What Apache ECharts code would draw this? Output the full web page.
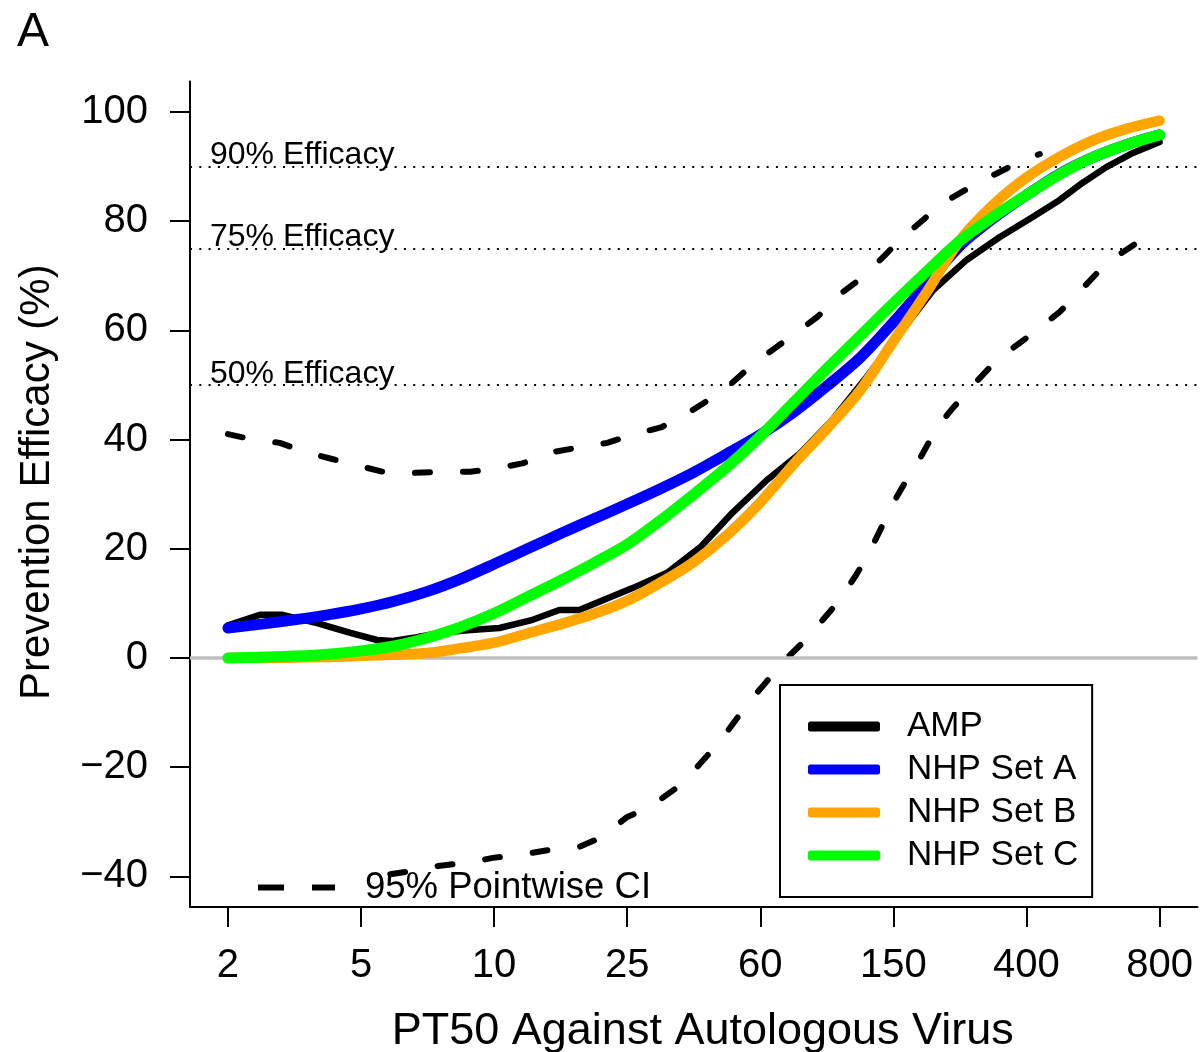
<!DOCTYPE html>
<html><head><meta charset="utf-8">
<script src="https://cdn.jsdelivr.net/npm/echarts@6/dist/echarts.min.js"></script>
<style>html,body{margin:0;padding:0;background:#fff}#c{width:1204px;height:1052px}</style>
</head><body><div id="c"></div>
<script>
// x positions are in axis units: tick k (0..7) carries label xTickLabels[k]
const xTickLabels = ['2','5','10','25','60','150','400','800'];
const xTickPos = [0,1,2,3,4,5,6,7];
const yTicks = [-40,-20,0,20,40,60,80,100];
const efficacyLevels = [90,75,50];
const efficacyLabels = ['90% Efficacy','75% Efficacy','50% Efficacy'];

const nhpX = [0,0.25,0.5,0.75,1,1.25,1.5,1.75,2,2.25,2.5,2.75,3,3.25,3.5,3.75,4,4.25,4.5,4.75,5,5.25,5.5,5.75,6,6.25,6.5,6.75,7];
const nhpA = [5.5,6.2,7.0,7.9,9.0,10.4,12.2,14.5,17.2,20.0,22.8,25.5,28.2,31.0,34.0,37.4,40.9,45.0,49.8,55.0,61.5,68.5,75.5,80.5,84.8,88.7,91.7,94.0,95.8];
const nhpB = [0,0,0.1,0.2,0.4,0.6,0.9,1.8,2.8,4.5,6.2,8.1,10.5,13.8,17.6,22.5,28.5,35.5,42.0,49.0,58.0,67.0,76.5,83.0,88.0,91.8,94.8,96.9,98.4];
const nhpC = [0,0.15,0.35,0.7,1.3,2.2,3.7,5.7,8.2,11.2,14.2,17.4,20.8,25.2,30.0,35.0,40.6,46.8,53.0,59.0,65.0,70.8,76.4,80.8,84.8,88.6,91.7,94.0,95.8];

const ampX = [0,0.24,0.41,0.67,0.92,1.12,1.24,1.42,1.59,1.80,2.04,2.29,2.49,2.64,2.79,3.04,3.30,3.55,3.79,4.05,4.30,4.54,4.80,5.05,5.30,5.55,5.80,6.05,6.25,6.42,6.60,6.80,7.0];
const ampY = [6.0,7.9,7.9,6.4,4.6,3.3,3.1,3.8,4.6,5.1,5.5,7.0,8.8,8.8,10.3,12.8,15.6,20.3,26.6,32.6,37.5,43.6,51.5,59.5,67.4,72.9,77.1,80.8,83.9,87.0,89.9,92.5,94.5];

const ciUpperX = [0,0.17,0.39,0.56,0.79,0.98,1.20,1.39,1.61,1.82,2.04,2.22,2.44,2.62,2.85,3.03,3.26,3.42,3.62,3.77,3.94,4.09,4.30,4.43,4.62,4.75,4.93,5.05,5.24,5.37,5.59,5.74,5.96,6.10];
const ciUpperY = [41.0,40.1,39.4,37.9,36.4,35.2,33.9,33.9,34.1,34.1,34.8,35.7,37.7,38.5,39.4,40.8,42.3,44.3,47.4,50.0,53.7,56.4,60.1,62.5,67.0,69.4,73.6,76.6,80.6,83.3,86.4,88.3,91.0,92.3];
const ciLowerX = [1.22,1.43,1.58,1.82,1.99,2.23,2.40,2.64,2.81,3.00,3.17,3.37,3.49,3.66,3.76,3.91,4.02,4.18,4.31,4.47,4.58,4.72,4.81,4.92,4.99,5.12,5.21,5.33,5.44,5.60,5.72,5.91,6.05,6.25,6.36,6.53,6.66,6.87,7.0];
const ciLowerY = [-39.6,-38.8,-38.1,-37.4,-36.6,-35.9,-35.2,-34.6,-32.8,-29.1,-27.3,-23.8,-20.9,-16.3,-13.2,-8.2,-5.1,-0.5,2.6,7.0,10.1,15.2,18.9,24.4,28.0,33.5,37.0,42.3,45.6,50.0,53.1,57.0,59.5,63.4,66.1,70.5,73.3,76.7,78.9];

const FONT = '"Liberation Sans", Arial, Helvetica, sans-serif';
const zip = (xs, ys) => xs.map((x, i) => [x, ys[i]]);

const chart = echarts.init(document.getElementById('c'), null, {renderer: 'canvas'});

const efficacyMarks = efficacyLevels.map((v, i) => ({
  yAxis: v,
  lineStyle: {color: '#000', width: 2, type: [2, 7.3]},
  label: {show: true, position: 'insideStartTop', formatter: efficacyLabels[i],
          fontSize: 32, fontFamily: FONT, color: '#000', distance: [20, -5]}
}));
const zeroMark = {yAxis: 0, lineStyle: {color: '#bebebe', width: 3.5, type: 'solid'}, label: {show: false}};

const ciStyle = {color: '#000', width: 6, type: [15, 33], cap: 'round', join: 'round'};

chart.setOption({
  animation: false,
  backgroundColor: '#fff',
  textStyle: {fontFamily: FONT},
  grid: {left: 190, right: 6.5, top: 81.4, bottom: 145, containLabel: false, outerBoundsMode: 'none'},
  graphic: [{type: 'text', left: 17, top: 9, style: {text: 'A', fontSize: 48, fontFamily: FONT, fill: '#000'}}],
  xAxis: {
    type: 'value', min: -0.285, max: 7.285,
    name: 'PT50 Against Autologous Virus', nameLocation: 'middle', nameGap: 102,
    nameTextStyle: {fontSize: 45, fontFamily: FONT, color: '#000', padding: [0, 0, 0, 18]},
    axisLine: {show: true, onZero: false, lineStyle: {color: '#000', width: 2}},
    axisTick: {show: true, inside: false, length: 20, lineStyle: {color: '#000', width: 2}, customValues: xTickPos},
    axisLabel: {show: true, fontSize: 40, fontFamily: FONT, color: '#000', margin: 39,
                customValues: xTickPos, formatter: v => xTickLabels[Math.round(v)]},
    splitLine: {show: false}
  },
  yAxis: {
    type: 'value', min: -45.6, max: 105.6,
    name: 'Prevention Efficacy (%)', nameLocation: 'middle', nameGap: 132, nameRotate: 90,
    nameTextStyle: {fontSize: 42, fontFamily: FONT, color: '#000', padding: [0, 0, 0, 24]},
    axisLine: {show: true, onZero: false, lineStyle: {color: '#000', width: 2}},
    axisTick: {show: true, inside: false, length: 20, lineStyle: {color: '#000', width: 2}, customValues: yTicks},
    axisLabel: {show: true, fontSize: 40, fontFamily: FONT, color: '#000', margin: 42,
                customValues: yTicks, formatter: v => String(v).replace('-', '\u2212')},
    splitLine: {show: false}
  },
  legend: [{
    data: ['AMP', 'NHP Set A', 'NHP Set B', 'NHP Set C'],
    orient: 'vertical', left: 780, top: 685,
    borderColor: '#000', borderWidth: 2, padding: [24, 14, 24, 28],
    itemWidth: 72, itemHeight: 10, itemGap: 8, icon: 'roundRect', selectedMode: false,
    textStyle: {fontSize: 35, fontFamily: FONT, color: '#000', padding: [0, 0, 0, 22]}
  }, {
    data: ['95% Pointwise CI'],
    left: 258, top: 869, padding: 0, selectedMode: false,
    itemWidth: 77, itemHeight: 6,
    icon: 'path://M0,0L26,0L26,6L0,6Z M54,0L77,0L77,6L54,6Z',
    textStyle: {fontSize: 36.5, fontFamily: FONT, color: '#000', padding: [0, 0, 0, 25]}
  }],
  series: [
    {name: '95% Pointwise CI', type: 'line', data: zip(ciUpperX, ciUpperY), symbol: 'none', color: '#000',
     lineStyle: ciStyle, z: 2,
     markLine: {silent: true, symbol: 'none', animation: false, data: [zeroMark].concat(efficacyMarks)}},
    {name: '95% Pointwise CI', type: 'line', data: zip(ciLowerX, ciLowerY), symbol: 'none', color: '#000',
     lineStyle: ciStyle, z: 2},
    {name: 'AMP', type: 'line', data: zip(ampX, ampY), symbol: 'none', color: '#000',
     lineStyle: {color: '#000', width: 6.5, cap: 'round', join: 'round'}, z: 3},
    {name: 'NHP Set A', type: 'line', data: zip(nhpX, nhpA), symbol: 'none', smooth: 0.3, color: '#0000ff',
     lineStyle: {color: '#0000ff', width: 11, cap: 'round', join: 'round'}, z: 4},
    {name: 'NHP Set B', type: 'line', data: zip(nhpX, nhpB), symbol: 'none', smooth: 0.3, color: '#ffa500',
     lineStyle: {color: '#ffa500', width: 10.5, cap: 'round', join: 'round'}, z: 5},
    {name: 'NHP Set C', type: 'line', data: zip(nhpX, nhpC), symbol: 'none', smooth: 0.3, color: '#00ff00',
     lineStyle: {color: '#00ff00', width: 11, cap: 'round', join: 'round'}, z: 6}
  ]
});
</script>
</body></html>
